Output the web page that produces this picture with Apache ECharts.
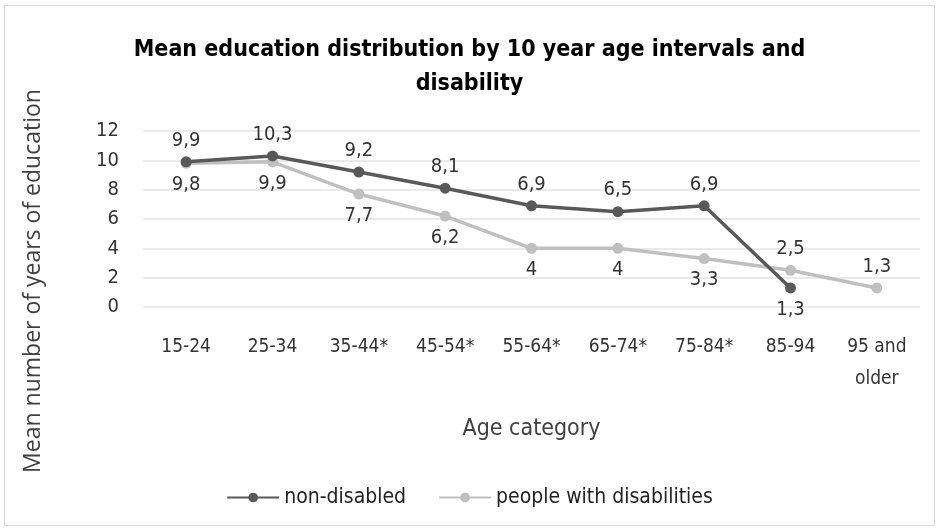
<!DOCTYPE html>
<html><head><meta charset="utf-8">
<script src="https://cdn.jsdelivr.net/npm/echarts@6/dist/echarts.min.js"></script>
<style>html,body{margin:0;padding:0;background:#fff}#c{position:absolute;left:4px;top:5px;width:931px;height:521px;border:1.5px solid #d9d9d9;box-sizing:border-box}</style>
</head><body><div id="c"></div>
<script>
const categories = ['15-24','25-34','35-44*','45-54*','55-64*','65-74*','75-84*','85-94','95 and\nolder'];
const nonDisabled = [9.9,10.3,9.2,8.1,6.9,6.5,6.9,1.3,null];
const withDisabilities = [9.8,9.9,7.7,6.2,4,4,3.3,2.5,1.3];
const yTicks = {min:0,max:12,interval:2};
const darkPos = ['top','top','top','top','top','top','top','bottom','top'];
const lightPos = ['bottom','bottom','bottom','bottom','bottom','bottom','bottom','top','top'];
const fmt = v => String(v).replace('.', ',');
const narrow = "'Liberation Sans Narrow','DejaVu Sans Condensed',sans-serif";
const chart = echarts.init(document.getElementById('c'));
function mk(vals,pos){return vals.map((v,i)=>({value:v,label:{position:pos[i]}}));}
chart.setOption({
  animation:false,
  title:{text:'Mean education distribution by 10 year age intervals and\ndisability',left:'center',top:22,
    textStyle:{fontFamily:narrow,fontSize:23,fontWeight:'bold',color:'#000',lineHeight:34}},
  graphic:[{type:'text',x:28,y:275,rotation:Math.PI/2,
    style:{text:'Mean number of years of education',fontFamily:"'Open Sans',sans-serif",fontSize:23,fill:'#404040',
      textAlign:'center',textVerticalAlign:'middle'}}],
  grid:{left:138,right:14,top:125,bottom:218},
  xAxis:{type:'category',data:categories,boundaryGap:true,
    axisLine:{show:false},axisTick:{show:false},
    axisLabel:{fontFamily:narrow,fontSize:19,color:'#333',margin:24,lineHeight:32},
    name:'Age category',nameLocation:'middle',nameGap:111,
    nameTextStyle:{fontFamily:narrow,fontSize:23,color:'#404040'}},
  yAxis:{type:'value',min:yTicks.min,max:yTicks.max,interval:yTicks.interval,
    axisLine:{show:false},axisTick:{show:false},
    splitLine:{lineStyle:{color:'#e3e3e3',width:1.5}},
    axisLabel:{fontFamily:narrow,fontSize:20,color:'#333',margin:24}},
  legend:{bottom:12,left:'center',itemWidth:52,itemHeight:12,itemGap:32,
    textStyle:{fontFamily:narrow,fontSize:21,color:'#222'},
    data:['non-disabled','people with disabilities']},
  series:[
    {name:'non-disabled',type:'line',data:mk(nonDisabled,darkPos),symbol:'circle',symbolSize:11,
     lineStyle:{color:'#595959',width:3.5},itemStyle:{color:'#595959'},
     label:{show:true,formatter:p=>fmt(p.value),fontFamily:narrow,fontSize:20,color:'#333',distance:6},z:3},
    {name:'people with disabilities',type:'line',data:mk(withDisabilities,lightPos),symbol:'circle',symbolSize:11,
     lineStyle:{color:'#bfbfbf',width:3.5},itemStyle:{color:'#bfbfbf'},
     label:{show:true,formatter:p=>fmt(p.value),fontFamily:narrow,fontSize:20,color:'#333',distance:6},z:2}
  ]
});
</script></body></html>
